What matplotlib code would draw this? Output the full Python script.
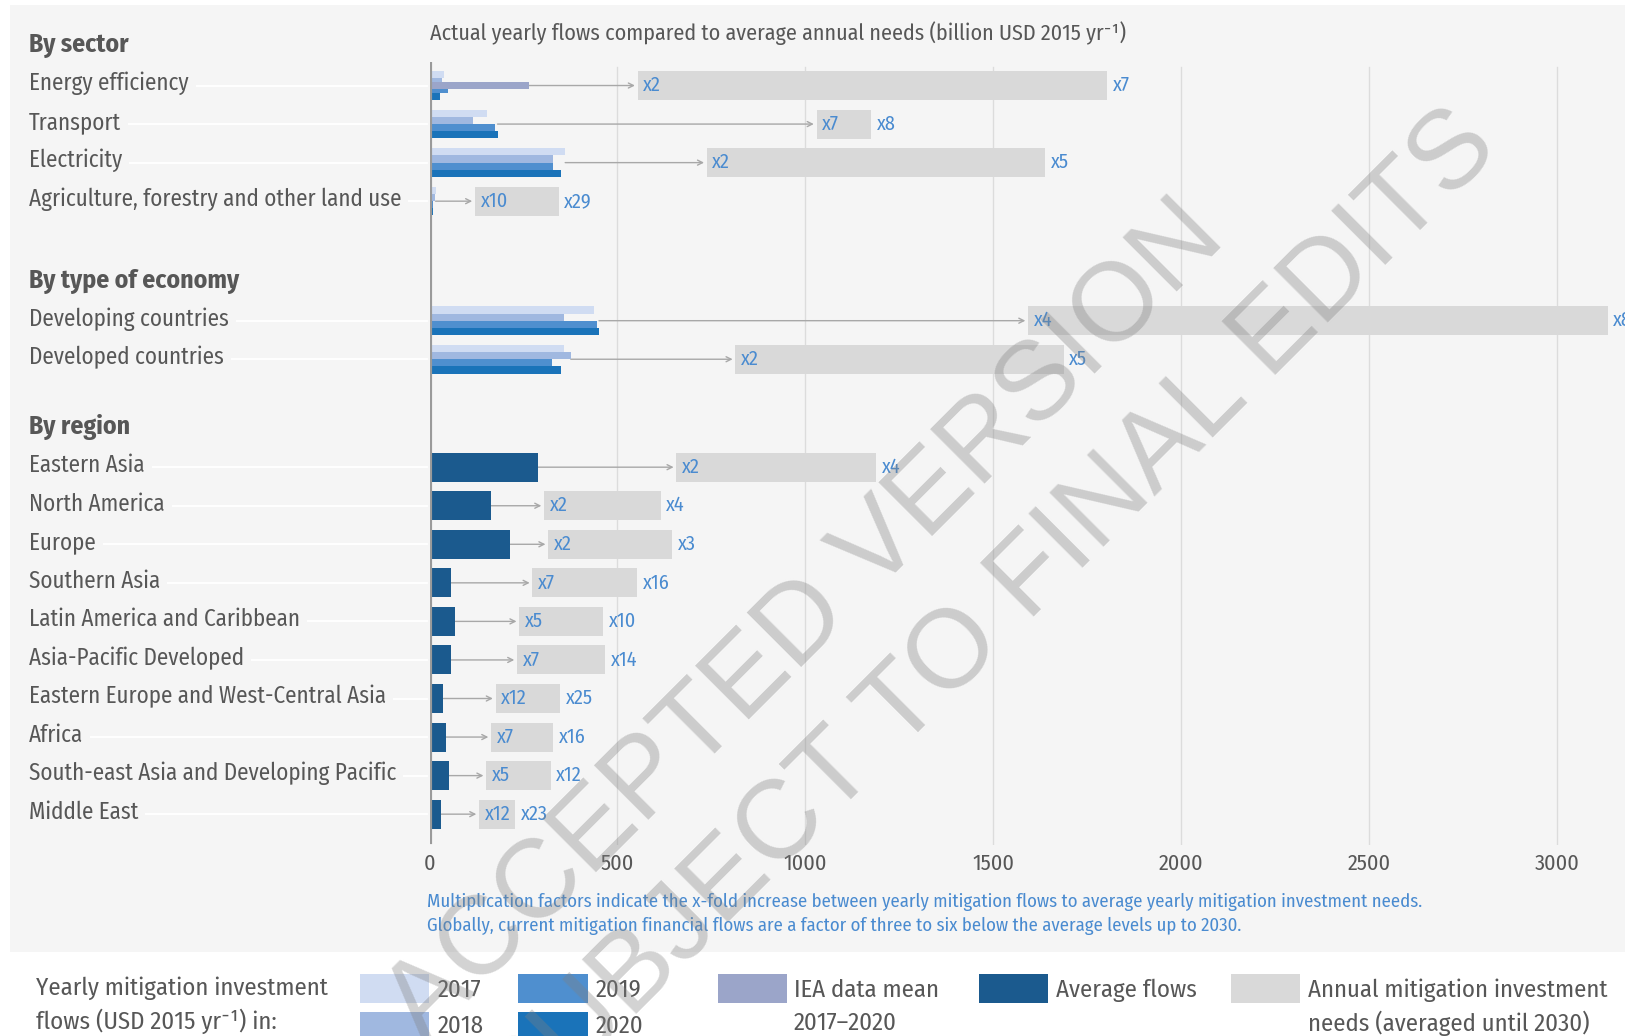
import matplotlib
matplotlib.use("Agg")
import numpy as np
import matplotlib.pyplot as plt
import matplotlib.transforms as mtransforms
from matplotlib.patches import Rectangle
from matplotlib import font_manager as fm

W, H = 1625, 1036

# choose a condensed humanist font (closest to the original) if installed
available = {f.name for f in fm.fontManager.ttflist}
prefs = ["Fira Sans Condensed", "PT Sans Narrow", "Roboto Condensed",
         "Archivo Narrow", "Asap Condensed", "Liberation Sans Narrow"]
MAIN = next((p for p in prefs if p in available), "DejaVu Sans")
FONT = [MAIN, "DejaVu Sans"]
plt.rcParams["font.family"] = FONT

# ---------------- data ----------------
group_titles = ["By sector", "By type of economy", "By region"]

sector_labels = ["Energy efficiency", "Transport", "Electricity",
                 "Agriculture, forestry and other land use"]
economy_labels = ["Developing countries", "Developed countries"]
region_labels = ["Eastern Asia", "North America", "Europe", "Southern Asia",
                 "Latin America and Caribbean", "Asia-Pacific Developed",
                 "Eastern Europe and West-Central Asia", "Africa",
                 "South-east Asia and Developing Pacific", "Middle East"]

years = ["2017", "2018", "2019", "2020"]
# yearly flows (billion USD 2015 / yr)
sector_2017 = [39, 154, 361, 16]
sector_2018 = [33, 117, 329, 14]
sector_2019 = [48, 174, 329, 9]
sector_2020 = [27, 181, 349, 8]
sector_iea = [264, np.nan, np.nan, np.nan]
economy_2017 = [438, 357]
economy_2018 = [357, 376]
economy_2019 = [445, 325]
economy_2020 = [451, 350]
region_avg = [289, 164, 215, 56, 69, 56, 37, 43, 51, 31]

# annual mitigation investment needs (range low / high)
sector_need_low = [554, 1030, 738, 121]
sector_need_high = [1804, 1175, 1638, 344]
economy_need_low = [1593, 814]
economy_need_high = [3135, 1688]
region_need_low = [657, 305, 316, 274, 239, 233, 176, 164, 151, 132]
region_need_high = [1189, 615, 645, 553, 462, 467, 348, 329, 322, 228]

# multiplication factors
sector_mult_low = ["x2", "x7", "x2", "x10"]
sector_mult_high = ["x7", "x8", "x5", "x29"]
economy_mult_low = ["x4", "x2"]
economy_mult_high = ["x8", "x5"]
region_mult_low = ["x2", "x2", "x2", "x7", "x5", "x7", "x12", "x7", "x5", "x12"]
region_mult_high = ["x4", "x4", "x3", "x16", "x10", "x14", "x25", "x16", "x12", "x23"]

xticks = [0, 500, 1000, 1500, 2000, 2500, 3000]

title_text = "Actual yearly flows compared to average annual needs (billion USD 2015 yr⁻¹)"
note_lines = ["Multiplication factors indicate the x-fold increase between yearly mitigation flows to average yearly mitigation investment needs.",
              "Globally, current mitigation financial flows are a factor of three to six below the average levels up to 2030."]

# ---------------- style ----------------
C2017, C2018, C2019, C2020 = "#d0dcf2", "#a0b8e0", "#4f8fcf", "#1a73b9"
CIEA = "#9ba5c9"
CAVG = "#1b5a8e"
CNEED = "#d9d9d9"
PANEL = "#f5f5f5"
BLUE = "#4a8bd0"
TXT = "#575757"


def fx(px):
    return px / W


def fy(py):
    return 1 - py / H


fig = plt.figure(figsize=(W / 100, H / 100), dpi=100)
fig.patch.set_facecolor("white")
renderer = fig.canvas.get_renderer()


def fit_size(s, target_px, **kw):
    t = fig.text(0, 0, s, fontsize=10, **kw)
    w = t.get_window_extent(renderer).width
    t.remove()
    return 10 * target_px / w


FS_ROW = fit_size("Agriculture, forestry and other land use", 373)
FS_HEAD = fit_size("By type of economy", 210, fontweight="bold")
FS_TITLE = fit_size(title_text, 696)
FS_NOTE = fit_size(note_lines[0], 992)
FS_LEG = fit_size("Yearly mitigation investment", 292)
FS_TICK = fit_size("1000", 43.5)
FS_MULT = fit_size("x10", 27.5)

fig.add_artist(Rectangle((fx(10), fy(952)), fx(1625) - fx(10), fy(5) - fy(952),
                         transform=fig.transFigure, facecolor=PANEL,
                         edgecolor="none", zorder=0))

px_per_unit = 0.3758
ax = fig.add_axes([fx(429.5), fy(845), fx(1625) - fx(429.5), fy(62) - fy(845)])
ax.set_facecolor("none")
ax.set_xlim(0, (1625 - 429.5) / px_per_unit)
ax.set_ylim(19.70, -0.61)
for s in ax.spines.values():
    s.set_visible(False)
ax.set_yticks([])
ax.set_xticks(xticks)
ax.set_xticklabels([str(t) for t in xticks])
ax.tick_params(axis="x", length=0, labelsize=FS_TICK, labelcolor=TXT, pad=6)

for t in xticks[1:]:
    ax.axvline(t, color="#dcdcdc", lw=1, ymax=0.994, zorder=0.5)
ax.axvline(0, color="#9a9a9a", lw=3, ymin=0.004, zorder=6)

# row positions (in row-pitch units)
sector_y = [0 + i for i in range(len(sector_labels))]
economy_y = [sector_y[-1] + 3.1 + i for i in range(len(economy_labels))]
region_y = [economy_y[-1] + 2.8 + i for i in range(len(region_labels))]
header_y = [sector_y[0] - 1.04, economy_y[0] - 1.02, region_y[0] - 1.03]

blend = mtransforms.blended_transform_factory(fig.transFigure, ax.transData)

bh = 0.185
year_cols = [C2017, C2018, C2019, C2020]


def draw_need(y, start, low, high, lo_lbl, hi_lbl):
    ax.barh(y, high - low, left=low, height=0.75, color=CNEED, zorder=1)
    ax.annotate("", xy=(low, y), xytext=(start, y),
                arrowprops=dict(arrowstyle="->", color="#a8a8a8", lw=1,
                                shrinkA=0, shrinkB=2, mutation_scale=9),
                zorder=2)
    ax.annotate(lo_lbl, xy=(low, y), xytext=(4, 0), textcoords="offset points",
                ha="left", va="center", color=BLUE, fontsize=FS_MULT, zorder=3)
    ax.annotate(hi_lbl, xy=(high, y), xytext=(4, 0), textcoords="offset points",
                ha="left", va="center", color=BLUE, fontsize=FS_MULT, zorder=3,
                annotation_clip=False)


def draw_years(y, vals, iea=np.nan):
    for j, (v, c) in enumerate(zip(vals, year_cols)):
        ax.barh(y + (-1.5 + j) * bh, v, height=bh, color=c, zorder=3)
    if not np.isnan(iea):
        ax.barh(y, iea, height=bh, color=CIEA, zorder=4)


for i, y in enumerate(sector_y):
    vals = [sector_2017[i], sector_2018[i], sector_2019[i], sector_2020[i]]
    draw_years(y, vals, sector_iea[i])
    start = np.nanmax(vals + [sector_iea[i]])
    draw_need(y, start, sector_need_low[i], sector_need_high[i],
              sector_mult_low[i], sector_mult_high[i])

for i, y in enumerate(economy_y):
    vals = [economy_2017[i], economy_2018[i], economy_2019[i], economy_2020[i]]
    draw_years(y, vals)
    draw_need(y, max(vals), economy_need_low[i], economy_need_high[i],
              economy_mult_low[i], economy_mult_high[i])

for i, y in enumerate(region_y):
    ax.barh(y, region_avg[i], height=0.75, color=CAVG, zorder=3)
    draw_need(y, region_avg[i], region_need_low[i], region_need_high[i],
              region_mult_low[i], region_mult_high[i])

# row labels + white leader lines
for labels, ys in [(sector_labels, sector_y), (economy_labels, economy_y),
                   (region_labels, region_y)]:
    for lab, y in zip(labels, ys):
        ax.plot([fx(30), fx(427)], [y, y], transform=blend, color="white",
                lw=1.3, clip_on=False, zorder=0.3)
        ax.text(fx(29), y - 0.05, lab, transform=blend, fontsize=FS_ROW,
                color=TXT, ha="left", va="center", zorder=1,
                bbox=dict(boxstyle="square,pad=0.3", facecolor=PANEL,
                          edgecolor="none"))
for title, y in zip(group_titles, header_y):
    ax.text(fx(29), y, title, transform=blend, fontsize=FS_HEAD, color=TXT,
            fontweight="bold", ha="left", va="center")

# chart title
fig.text(fx(430), fy(33), title_text, fontsize=FS_TITLE, color=TXT,
         ha="left", va="center")

# footnote
fig.text(fx(427), fy(901.5), note_lines[0], fontsize=FS_NOTE, color=BLUE,
         ha="left", va="center")
fig.text(fx(427), fy(925.5), note_lines[1], fontsize=FS_NOTE, color=BLUE,
         ha="left", va="center")

# legend
fig.text(fx(36), fy(988), "Yearly mitigation investment", fontsize=FS_LEG,
         color=TXT, ha="left", va="center")
fig.text(fx(36), fy(1021), "flows (USD 2015 yr⁻¹) in:", fontsize=FS_LEG,
         color=TXT, ha="left", va="center")


def swatch(x0, y0, x1, y1, c):
    fig.add_artist(Rectangle((fx(x0), fy(y1)), fx(x1) - fx(x0), fy(y0) - fy(y1),
                             transform=fig.transFigure, facecolor=c,
                             edgecolor="none", zorder=1))


swatch(360, 974, 429, 1003, C2017)
swatch(360, 1012, 429, 1041, C2018)
swatch(518, 974, 588, 1003, C2019)
swatch(518, 1012, 588, 1041, C2020)
swatch(718, 974, 787, 1003, CIEA)
swatch(979, 974, 1048, 1003, CAVG)
swatch(1231, 974, 1300, 1003, CNEED)

leg_items = [(438, 990, years[0]), (438, 1026, years[1]),
             (596, 990, years[2]), (596, 1026, years[3]),
             (794, 990, "IEA data mean"), (794, 1023, "2017–2020"),
             (1056, 990, "Average flows"),
             (1308, 990, "Annual mitigation investment"),
             (1308, 1023, "needs (averaged until 2030)")]
for x, y, s in leg_items:
    fig.text(fx(x), fy(y), s, fontsize=FS_LEG, color=TXT, ha="left", va="center")

# watermark
wm = dict(rotation=45, fontsize=80, color="#808080", alpha=0.35, ha="center",
          va="center", rotation_mode="anchor", zorder=20,
          family=["Liberation Sans", "DejaVu Sans"])
fig.text(fx(806), fy(622), "ACCEPTED VERSION", **wm)
fig.text(fx(991), fy(619), "SUBJECT TO FINAL EDITS", **wm)

fig.savefig("out.png", dpi=100, facecolor="white")
